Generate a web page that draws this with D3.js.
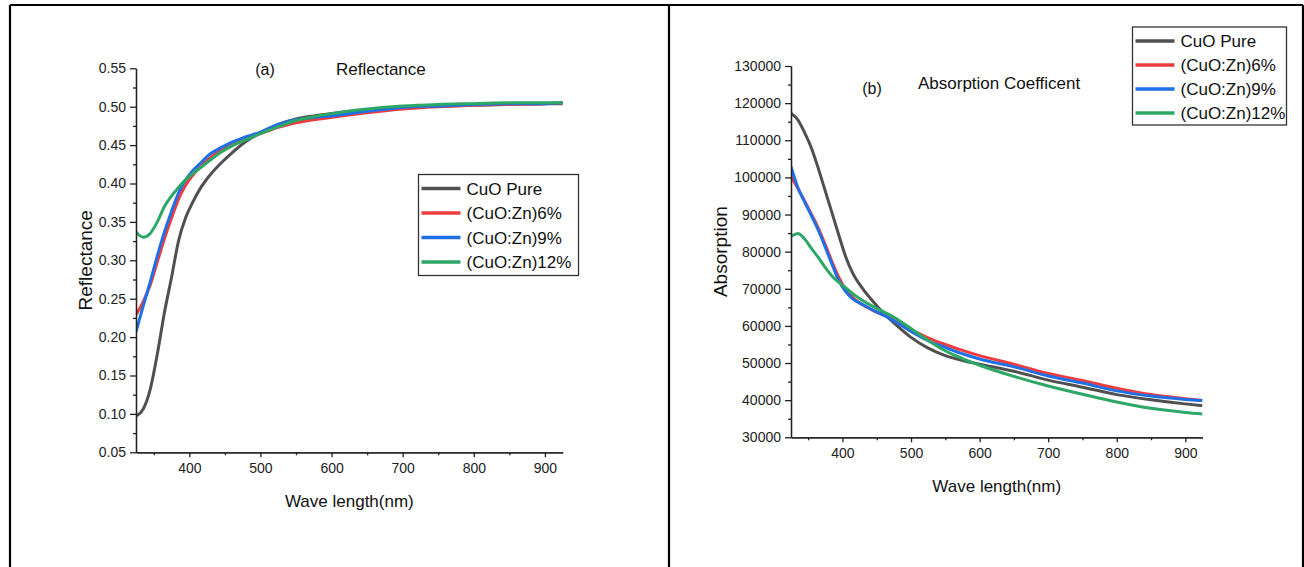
<!DOCTYPE html>
<html>
<head>
<meta charset="utf-8">
<script src="https://cdn.jsdelivr.net/npm/d3@7/dist/d3.min.js"></script>
<style>
  html, body { margin: 0; padding: 0; background: #fff; }
  svg { display: block; font-family: "Liberation Sans", Arial, sans-serif; }
</style>
</head>
<body>
<svg id="fig" width="1304" height="567"></svg>
<script>
// Wavelength grid (nm) shared by every series
const wavelength = [325, 335, 345, 355, 365, 375, 385, 395, 405, 415, 430, 445, 460, 480, 500,
                    525, 550, 575, 600, 650, 700, 750, 800, 850, 900, 925];

const seriesNames = ["CuO Pure", "(CuO:Zn)6%", "(CuO:Zn)9%", "(CuO:Zn)12%"];
const seriesColors = ["#505050", "#ef3d3f", "#1f6fe6", "#2ca765"];

// Reflectance
const reflPure = [0.097, 0.106, 0.132, 0.178, 0.232, 0.278, 0.326, 0.356, 0.376, 0.393, 0.412, 0.427,
                  0.440, 0.455, 0.466, 0.477, 0.484, 0.488, 0.491, 0.496, 0.499, 0.501, 0.502, 0.503, 0.504, 0.504];
const refl6   = [0.229, 0.246, 0.268, 0.298, 0.328, 0.355, 0.380, 0.398, 0.411, 0.421, 0.434, 0.444,
                  0.452, 0.459, 0.465, 0.473, 0.479, 0.483, 0.486, 0.492, 0.497, 0.500, 0.502, 0.503, 0.504, 0.505];
const refl9   = [0.207, 0.240, 0.272, 0.306, 0.337, 0.364, 0.388, 0.405, 0.417, 0.426, 0.439, 0.447,
                  0.454, 0.461, 0.467, 0.477, 0.483, 0.486, 0.488, 0.494, 0.499, 0.501, 0.503, 0.504, 0.504, 0.505];
const refl12  = [0.337, 0.330, 0.335, 0.350, 0.370, 0.384, 0.395, 0.405, 0.413, 0.420, 0.431, 0.441,
                  0.449, 0.457, 0.465, 0.474, 0.482, 0.487, 0.491, 0.497, 0.501, 0.503, 0.504, 0.505, 0.505, 0.505];

// Absorption coefficient
const absPure = [117300, 115500, 112000, 107800, 102300, 96300, 90300, 84300, 78500, 74200, 69900, 66500,
                 63400, 60000, 56900, 54000, 52000, 50700, 49700, 47800, 45400, 43500, 41500, 40100, 39000, 38500];
const abs6    = [100200, 97000, 93600, 90000, 86300, 81900, 77200, 73000, 69800, 67700, 65600, 64100,
                 62900, 61100, 59000, 56800, 55000, 53400, 52000, 49700, 47200, 45300, 43200, 41500, 40400, 39900];
const abs9    = [102900, 97300, 93300, 89600, 85700, 81200, 76500, 72100, 69200, 67300, 65700, 64200,
                 62900, 60800, 58500, 56000, 54200, 52500, 51100, 49000, 46500, 44600, 42500, 41100, 40200, 39900];
const abs12   = [84100, 84900, 83400, 80800, 78400, 75700, 73400, 71700, 70200, 68700, 66800, 65200,
                 63800, 61800, 59300, 56100, 53300, 51200, 49400, 46400, 43800, 41600, 39500, 37800, 36700, 36300];

// Axis ticks
const xMajorTicks = [400, 500, 600, 700, 800, 900];
const xMinorTicks = [350, 450, 550, 650, 750, 850];
const reflTicks = [0.05, 0.10, 0.15, 0.20, 0.25, 0.30, 0.35, 0.40, 0.45, 0.50, 0.55];
const reflMinor = [0.075, 0.125, 0.175, 0.225, 0.275, 0.325, 0.375, 0.425, 0.475, 0.525];
const absTicks = [30000, 40000, 50000, 60000, 70000, 80000, 90000, 100000, 110000, 120000, 130000];
const absMinor = [35000, 45000, 55000, 65000, 75000, 85000, 95000, 105000, 115000, 125000];

const svg = d3.select("#fig");

// Panel frames
svg.append("path")
  .attr("d", "M10,5H1303M10,5V567M669,5V567M1303,5V567")
  .attr("fill", "none").attr("stroke", "#000").attr("stroke-width", 2.2);

function drawPanel(cfg, idx) {
  const x = d3.scaleLinear().domain([325, 925]).range([cfg.x0, cfg.x1]);
  const y = d3.scaleLinear().domain(cfg.yDomain).range([cfg.y0, cfg.y1]);
  const g = svg.append("g");

  const clipId = "clip" + idx;
  g.append("clipPath").attr("id", clipId).append("rect")
    .attr("x", cfg.x0).attr("y", cfg.y1 - 2)
    .attr("width", cfg.x1 - cfg.x0).attr("height", cfg.y0 - cfg.y1 + 2);

  const line = d3.line()
    .x((d, i) => x(wavelength[i]))
    .y(d => y(d))
    .curve(d3.curveMonotoneX);

  const lines = g.append("g").attr("clip-path", `url(#${clipId})`);
  cfg.series.forEach((vals, k) => {
    lines.append("path")
      .datum(vals)
      .attr("d", line)
      .attr("fill", "none")
      .attr("stroke", seriesColors[k])
      .attr("stroke-width", 3)
      .attr("stroke-linejoin", "round");
  });

  // Axes
  const styleAxis = sel => {
    sel.selectAll("path, line").attr("stroke", "#222").attr("stroke-width", 1.3);
    sel.selectAll("text").attr("fill", "#222").style("font-size", "14px")
      .style("font-family", '"Liberation Sans", Arial, sans-serif');
  };
  g.append("g").attr("transform", `translate(0,${cfg.y0})`)
    .call(d3.axisBottom(x).tickValues(xMinorTicks).tickSize(3).tickSizeOuter(0).tickFormat(""))
    .call(styleAxis);
  g.append("g").attr("transform", `translate(0,${cfg.y0})`)
    .call(d3.axisBottom(x).tickValues(xMajorTicks).tickSize(5).tickSizeOuter(0).tickPadding(6).tickFormat(d3.format("d")))
    .call(styleAxis);
  g.append("g").attr("transform", `translate(${cfg.x0},0)`)
    .call(d3.axisLeft(y).tickValues(cfg.yMinor).tickSize(3).tickSizeOuter(0).tickFormat(""))
    .call(styleAxis);
  g.append("g").attr("transform", `translate(${cfg.x0},0)`)
    .call(d3.axisLeft(y).tickValues(cfg.yTicks).tickSize(6).tickSizeOuter(0).tickPadding(4).tickFormat(cfg.yFormat))
    .call(styleAxis);

  // Axis titles
  g.append("text")
    .attr("x", (cfg.x0 + cfg.x1) / 2).attr("y", cfg.y0 + 55)
    .attr("text-anchor", "middle").style("font-size", "17px").attr("fill", "#111")
    .text("Wave length(nm)");
  g.append("text")
    .attr("transform", `translate(${cfg.yLabelX},${(cfg.y0 + cfg.y1) / 2}) rotate(-90)`)
    .attr("text-anchor", "middle").attr("dy", "0.35em")
    .style("font-size", "19px").attr("fill", "#111")
    .text(cfg.yLabel);

  // Panel letter and heading
  g.append("text").attr("x", cfg.letterX).attr("y", cfg.letterY)
    .attr("text-anchor", "middle").style("font-size", "16px").attr("fill", "#111")
    .text(cfg.letter);
  g.append("text").attr("x", cfg.titleX).attr("y", cfg.titleY)
    .style("font-size", "17px").attr("fill", "#111")
    .text(cfg.title);

  // Legend
  const lg = g.append("g").attr("transform", `translate(${cfg.legX},${cfg.legY})`);
  lg.append("rect").attr("width", cfg.legW).attr("height", cfg.legH)
    .attr("fill", "#fff").attr("stroke", "#333").attr("stroke-width", 1.3);
  seriesNames.forEach((name, k) => {
    const cy = 14 + k * cfg.legStep;
    lg.append("line").attr("x1", 3).attr("x2", 42).attr("y1", cy).attr("y2", cy)
      .attr("stroke", seriesColors[k]).attr("stroke-width", 3.5);
    lg.append("text").attr("x", 48).attr("y", cy).attr("dy", "0.36em")
      .style("font-size", "17px").attr("fill", "#111").text(name);
  });
}

drawPanel({
  x0: 136, x1: 562.7, y0: 452.3, y1: 68.3,
  yDomain: [0.05, 0.55], yTicks: reflTicks, yMinor: reflMinor, yFormat: d3.format(".2f"),
  series: [reflPure, refl6, refl9, refl12],
  yLabel: "Reflectance", yLabelX: 85,
  letter: "(a)", letterX: 265, letterY: 75,
  title: "Reflectance", titleX: 336, titleY: 75,
  legX: 418.5, legY: 174.5, legW: 160, legH: 101, legStep: 24.5
}, 0);

drawPanel({
  x0: 791, x1: 1202.5, y0: 437.3, y1: 66,
  yDomain: [30000, 130000], yTicks: absTicks, yMinor: absMinor, yFormat: d3.format("d"),
  series: [absPure, abs6, abs9, abs12],
  yLabel: "Absorption", yLabelX: 720,
  letter: "(b)", letterX: 872, letterY: 94,
  title: "Absorption Coefficent", titleX: 918, titleY: 89,
  legX: 1132.5, legY: 27, legW: 154, legH: 98, legStep: 24
}, 1);
</script>
</body>
</html>
